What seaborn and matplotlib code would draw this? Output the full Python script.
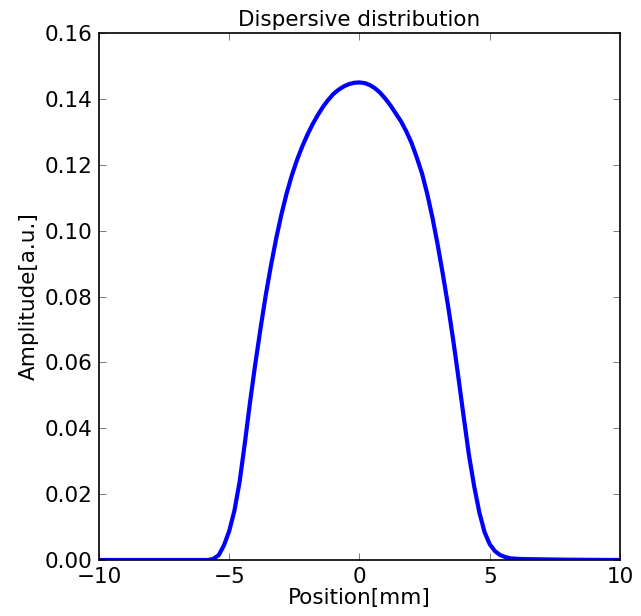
import numpy as np
import pandas as pd
import matplotlib
matplotlib.use("Agg")
import matplotlib.pyplot as plt
import seaborn as sns

# Valores
position_mm = [-10, -8, -6, -5.8, -5.6, -5.4, -5.2, -5.0, -4.8, -4.6, -4.4, -4.2,
               -4.0, -3.8, -3.6, -3.4, -3.2, -3.0, -2.8, -2.6, -2.4, -2.2, -2.0,
               -1.8, -1.6, -1.4, -1.2, -1.0, -0.8, -0.6, -0.4, -0.2, 0.0,
               0.2, 0.4, 0.6, 0.8, 1.0, 1.2, 1.4, 1.6, 1.8, 2.0, 2.2, 2.4,
               2.6, 2.8, 3.0, 3.2, 3.4, 3.6, 3.8, 4.0, 4.2, 4.4, 4.6, 4.8,
               5.0, 5.2, 5.4, 5.6, 5.8, 6.2, 7, 8, 10]
amplitude = [0.0, 0.0, 0.0, 0.0, 0.0004, 0.0015, 0.0045, 0.0088, 0.0150, 0.0238, 0.0355, 0.0480,
             0.0595, 0.0702, 0.0803, 0.0893, 0.0975, 0.1048, 0.1112, 0.1167, 0.1214, 0.1255, 0.1291,
             0.1323, 0.1351, 0.1376, 0.1397, 0.1415, 0.1428, 0.1438, 0.1445, 0.1449, 0.1450,
             0.1448, 0.1442, 0.1432, 0.1418, 0.1400, 0.1379, 0.1355, 0.1331, 0.1301, 0.1266, 0.1222, 0.1174,
             0.1112, 0.1040, 0.0958, 0.0868, 0.0772, 0.0667, 0.0553, 0.0435, 0.0320, 0.0225, 0.0145, 0.0085,
             0.0048, 0.0027, 0.0015, 0.0009, 0.0005, 0.0003, 0.0002, 0.0001, 0.0]

df = pd.DataFrame({"Position": position_mm, "Amplitude": amplitude})

sns.set_style("ticks", {
    "xtick.direction": "in",
    "ytick.direction": "in",
    "axes.edgecolor": "black",
    "text.color": "black",
    "axes.labelcolor": "black",
    "xtick.color": "black",
    "ytick.color": "black",
})
plt.rcParams["font.family"] = ["DejaVu Sans"]
plt.rcParams["xtick.top"] = True
plt.rcParams["ytick.right"] = True

fig = plt.figure(figsize=(6.41, 6.16), dpi=100)
ax = fig.add_axes([0.1544, 0.0909, 0.8128, 0.8555])
sns.lineplot(data=df, x="Position", y="Amplitude", color="blue", linewidth=3, ax=ax)

ax.set_xlim(-10, 10)
ax.set_ylim(0, 0.16)
ax.set_xticks([-10, -5, 0, 5, 10])
ax.set_yticks(np.arange(0, 0.161, 0.02))
ax.set_yticklabels([f"{v:.2f}" for v in np.arange(0, 0.161, 0.02)])
ax.tick_params(labelsize=15.5, length=5, width=0.6, color="#666666", pad=5)
for s in ax.spines.values():
    s.set_linewidth(1.2)
ax.set_xlabel("Position[mm]", fontsize=15.5, labelpad=1)
ax.set_ylabel("Amplitude[a.u.]", fontsize=15.5, labelpad=4)
ax.set_title("Dispersive distribution", fontsize=15.5, pad=5)

fig.savefig("out.png", dpi=100, facecolor="white")
